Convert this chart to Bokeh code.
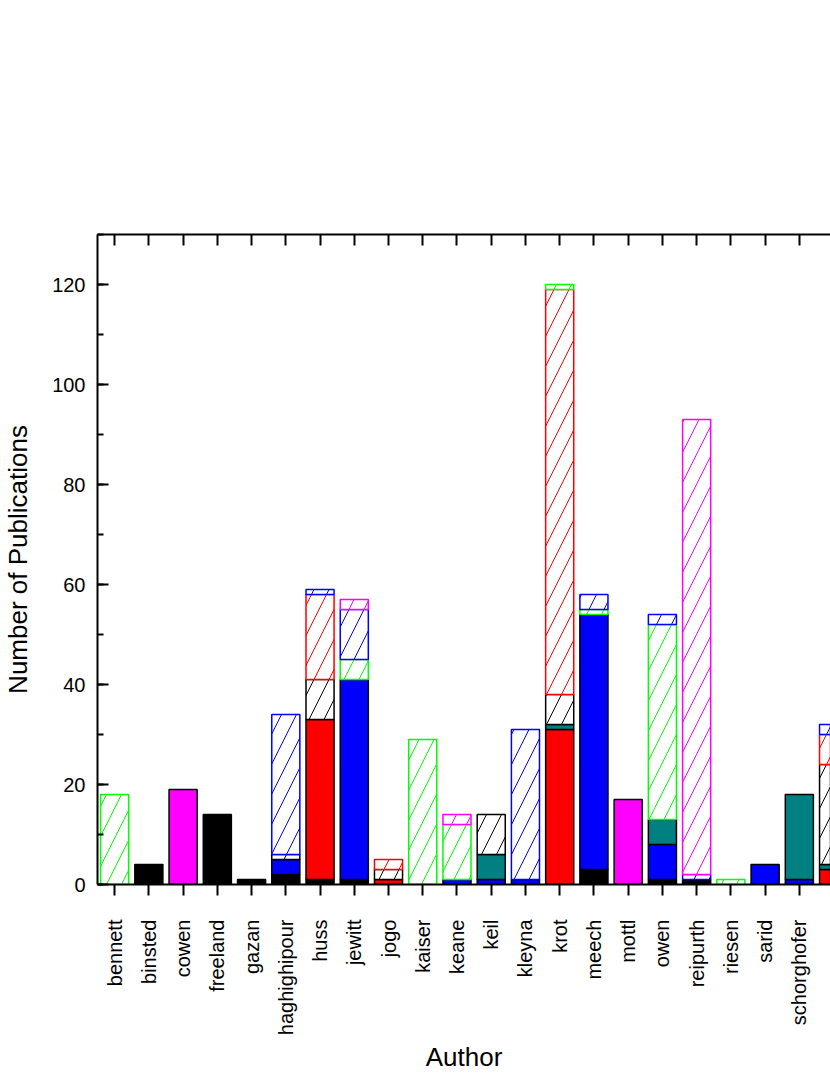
import numpy as np
from bokeh.plotting import figure
from bokeh.models import ColumnDataSource, Range1d, FixedTicker, SingleIntervalTicker, LinearAxis, Label
from bokeh.embed import file_html
from bokeh.resources import INLINE

authors = ["bennett", "binsted", "cowen", "freeland", "gazan", "haghighipour", "huss",
           "jewitt", "jogo", "kaiser", "keane", "keil", "kleyna", "krot", "meech", "mottl",
           "owen", "reipurth", "riesen", "sarid", "schorghofer", "scott"]

# stacked series, bottom to top
solid_black   = [0, 4, 0, 14, 1, 2, 1, 1, 0, 0, 0, 0, 0, 0, 3, 0, 1, 1, 0, 0, 0, 0]
solid_red     = [0, 0, 0, 0, 0, 0, 32, 0, 1, 0, 0, 0, 0, 31, 0, 0, 0, 0, 0, 0, 0, 3]
solid_blue    = [0, 0, 0, 0, 0, 3, 0, 40, 0, 0, 1, 1, 1, 0, 51, 0, 7, 0, 0, 4, 1, 0]
solid_teal    = [0, 0, 0, 0, 0, 0, 0, 0, 0, 0, 0, 5, 0, 1, 0, 0, 5, 0, 0, 0, 17, 1]
solid_magenta = [0, 0, 19, 0, 0, 0, 0, 0, 0, 0, 0, 0, 0, 0, 0, 17, 0, 0, 0, 0, 0, 0]
hatch_black   = [0, 0, 0, 0, 0, 1, 8, 0, 2, 0, 0, 8, 0, 6, 0, 0, 0, 0, 0, 0, 0, 20]
hatch_red     = [0, 0, 0, 0, 0, 0, 17, 0, 2, 0, 0, 0, 0, 81, 0, 0, 0, 0, 0, 0, 0, 6]
hatch_green   = [18, 0, 0, 0, 0, 0, 0, 4, 0, 29, 11, 0, 0, 1, 1, 0, 39, 0, 1, 0, 0, 0]
hatch_blue    = [0, 0, 0, 0, 0, 28, 1, 10, 0, 0, 0, 0, 30, 0, 3, 0, 2, 1, 0, 0, 0, 2]
hatch_magenta = [0, 0, 0, 0, 0, 0, 0, 2, 0, 0, 2, 0, 0, 0, 0, 0, 0, 91, 0, 0, 0, 0]

series = [
    (solid_black, "#000000", False),
    (solid_red, "#FF0000", False),
    (solid_blue, "#0000FF", False),
    (solid_teal, "#008080", False),
    (solid_magenta, "#FF00FF", False),
    (hatch_black, "#000000", True),
    (hatch_red, "#FF0000", True),
    (hatch_green, "#00FF00", True),
    (hatch_blue, "#0000FF", True),
    (hatch_magenta, "#FF00FF", True),
]

n = len(authors)
idx = np.arange(n)

p = figure(width=830, height=1075, output_backend="svg", toolbar_location=None,
           x_range=Range1d(-0.5, 20.91), y_range=Range1d(0, 130),
           min_border_left=97, min_border_right=0, min_border_top=234, min_border_bottom=188)
p.outline_line_color = None
p.xgrid.visible = False
p.ygrid.visible = False
p.background_fill_color = "white"

bottom = np.zeros(n)
for vals, color, hatched in series:
    v = np.array(vals, dtype=float)
    top = bottom + v
    m = v > 0
    src = ColumnDataSource(dict(x=idx[m], bottom=bottom[m], top=top[m]))
    if hatched:
        p.vbar(x="x", bottom="bottom", top="top", width=0.82, source=src,
               fill_color="white", line_color=color, line_width=1.5,
               hatch_pattern="/", hatch_color=color, hatch_scale=30, hatch_weight=1)
    else:
        p.vbar(x="x", bottom="bottom", top="top", width=0.82, source=src,
               fill_color=color, line_color="black", line_width=1.5)
    bottom = top

font = "Liberation Sans"

# bottom axis
xa = p.xaxis[0]
xa.ticker = FixedTicker(ticks=list(range(n)))
xa.major_label_overrides = {i: a for i, a in enumerate(authors)}
xa.major_label_orientation = np.pi / 2
xa.major_tick_in = 0
xa.major_tick_out = 11
xa.minor_tick_line_color = None
xa.major_label_standoff = 24
xa.axis_label = "Author"
xa.axis_label_standoff = 4

# left axis
ya = p.yaxis[0]
ya.ticker = SingleIntervalTicker(interval=20, num_minor_ticks=2)
ya.major_tick_in = 11
ya.major_tick_out = 0
ya.minor_tick_in = 6
ya.minor_tick_out = 0
ya.major_label_standoff = 12
ya.axis_label = "Number of Publications"
ya.axis_label_standoff = 16

for ax in (xa, ya):
    ax.axis_line_width = 2
    ax.major_tick_line_width = 2
    ax.minor_tick_line_width = 2
    ax.axis_line_color = "black"
    ax.major_tick_line_color = "black"
    ax.major_label_text_font = font
    ax.major_label_text_font_size = "20px"
    ax.major_label_text_color = "black"
    ax.axis_label_text_font = font
    ax.axis_label_text_font_size = "26px"
    ax.axis_label_text_font_style = "normal"
    ax.axis_label_text_color = "black"

# top axis (ticks only)
top_axis = LinearAxis(ticker=FixedTicker(ticks=list(range(n))),
                      major_tick_in=11, major_tick_out=0,
                      minor_tick_line_color=None,
                      major_label_overrides={i: "" for i in range(n)},
                      axis_line_width=2, major_tick_line_width=2)
p.add_layout(top_axis, "above")

# label of the last author, clipped by the page edge as in the original
p.add_layout(Label(x=n - 1, y=0, text=authors[-1], angle=np.pi / 2,
                   text_align="right", text_baseline="middle", y_offset=-35,
                   text_font=font, text_font_size="20px", text_color="black"))

open("out.html", "w").write(file_html(p, INLINE))
